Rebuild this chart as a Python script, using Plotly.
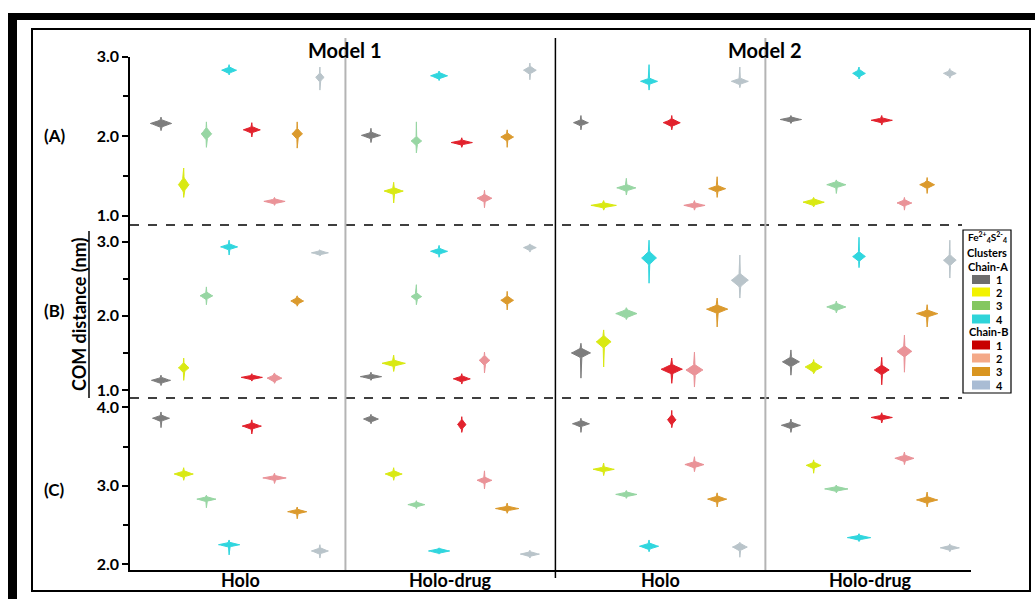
import plotly.graph_objects as go

W, H = 1035, 599

# ---------------- data ----------------
SERIES = ['1', '2', '3', '4', '1', '2', '3', '4']
CHAIN = ['Chain-A'] * 4 + ['Chain-B'] * 4
COLORS = ['#737373', '#d6e800', '#8fd39c', '#1fd3dc',
          '#e0101c', '#e98a90', '#d9921c', '#b4c0c6']
LEGEND_COLORS = ['#6d6d6d', '#f2f200', '#84c760', '#2fd4d9',
                 '#c80000', '#f4a988', '#d99520', '#a9bcd4']
GROUPS = ['Holo', 'Holo-drug', 'Holo', 'Holo-drug']
MODELS = ['Model 1', 'Model 2']
PANELS = ['(A)', '(B)', '(C)']

# medians (nm) per group (Model1 Holo, Model1 Holo-drug, Model2 Holo, Model2 Holo-drug) x cluster
MED_A = [[2.16, 1.39, 2.03, 2.83, 2.08, 1.18, 2.03, 2.74],
         [2.01, 1.31, 1.94, 2.76, 1.92, 1.22, 1.99, 2.83],
         [2.17, 1.13, 1.35, 2.69, 2.17, 1.13, 1.34, 2.69],
         [2.21, 1.17, 1.39, 2.79, 2.20, 1.16, 1.39, 2.79]]
LO_A = [[2.07, 1.23, 1.86, 2.77, 1.99, 1.13, 1.85, 2.58],
        [1.92, 1.16, 1.79, 2.70, 1.86, 1.10, 1.86, 2.71],
        [2.08, 1.07, 1.26, 2.58, 2.08, 1.07, 1.23, 2.61],
        [2.16, 1.11, 1.28, 2.72, 2.14, 1.07, 1.28, 2.73]]
HI_A = [[2.24, 1.60, 2.18, 2.90, 2.17, 1.23, 2.18, 2.87],
        [2.10, 1.42, 2.18, 2.82, 1.98, 1.32, 2.08, 2.92],
        [2.26, 1.19, 1.47, 2.90, 2.26, 1.19, 1.49, 2.87],
        [2.26, 1.23, 1.45, 2.87, 2.26, 1.23, 1.48, 2.85]]
CORE_A = [[0.05, 0.10, 0.08, 0.04, 0.04, 0.03, 0.07, 0.06],
          [0.04, 0.04, 0.06, 0.04, 0.03, 0.05, 0.05, 0.05],
          [0.04, 0.03, 0.04, 0.04, 0.05, 0.03, 0.04, 0.04],
          [0.03, 0.04, 0.04, 0.05, 0.03, 0.04, 0.05, 0.04]]
PEAK_A = [[10, 5, 5, 7, 8, 10, 5, 4],
          [9, 9, 5, 8, 10, 7, 6, 6],
          [7, 12, 9, 8, 8, 10, 8, 8],
          [10, 10, 9, 6, 10, 7, 7, 6]]

MED_B = [[1.13, 1.30, 2.27, 2.93, 1.17, 1.16, 2.20, 2.85],
         [1.18, 1.36, 2.26, 2.87, 1.15, 1.40, 2.21, 2.92],
         [1.50, 1.65, 2.03, 2.78, 1.28, 1.27, 2.09, 2.48],
         [1.38, 1.31, 2.12, 2.80, 1.27, 1.52, 2.03, 2.75]]
LO_B = [[1.06, 1.13, 2.15, 2.82, 1.12, 1.09, 2.13, 2.81],
        [1.13, 1.25, 2.15, 2.79, 1.08, 1.23, 2.08, 2.86],
        [1.16, 1.31, 1.95, 2.44, 1.09, 1.04, 1.85, 2.24],
        [1.20, 1.22, 2.04, 2.65, 1.07, 1.24, 1.85, 2.51]]
HI_B = [[1.20, 1.43, 2.39, 3.02, 1.22, 1.23, 2.27, 2.89],
        [1.24, 1.47, 2.42, 2.95, 1.22, 1.51, 2.33, 2.97],
        [1.63, 1.81, 2.11, 3.02, 1.43, 1.51, 2.24, 2.82],
        [1.54, 1.41, 2.20, 3.06, 1.44, 1.74, 2.15, 3.02]]
CORE_B = [[0.04, 0.07, 0.05, 0.04, 0.03, 0.05, 0.05, 0.03],
          [0.03, 0.04, 0.05, 0.04, 0.04, 0.07, 0.06, 0.04],
          [0.07, 0.09, 0.06, 0.10, 0.07, 0.08, 0.06, 0.10],
          [0.07, 0.07, 0.05, 0.07, 0.07, 0.08, 0.05, 0.08]]
PEAK_B = [[9, 5, 6, 8, 10, 7, 6, 8],
          [10, 11, 5, 8, 8, 5, 6, 6],
          [9, 7, 10, 7, 10, 8, 10, 8],
          [8, 8, 9, 6, 7, 7, 10, 6]]

MED_C = [[3.86, 3.15, 2.83, 2.25, 3.76, 3.10, 2.67, 2.17],
         [3.85, 3.15, 2.76, 2.17, 3.78, 3.07, 2.71, 2.13],
         [3.79, 3.21, 2.89, 2.23, 3.84, 3.27, 2.83, 2.22],
         [3.77, 3.26, 2.96, 2.34, 3.87, 3.35, 2.82, 2.21]]
LO_C = [[3.74, 3.07, 2.72, 2.12, 3.66, 3.03, 2.58, 2.08],
        [3.79, 3.07, 2.71, 2.13, 3.68, 2.96, 2.65, 2.08],
        [3.68, 3.13, 2.84, 2.16, 3.74, 3.18, 2.73, 2.09],
        [3.68, 3.16, 2.91, 2.29, 3.80, 3.27, 2.73, 2.16]]
HI_C = [[3.94, 3.23, 2.88, 2.31, 3.84, 3.16, 2.73, 2.25],
        [3.91, 3.23, 2.81, 2.21, 3.88, 3.19, 2.78, 2.18],
        [3.86, 3.29, 2.94, 2.31, 3.96, 3.37, 2.91, 2.28],
        [3.85, 3.33, 3.01, 2.39, 3.93, 3.43, 2.92, 2.26]]
CORE_C = [[0.04, 0.04, 0.03, 0.03, 0.04, 0.03, 0.03, 0.04],
          [0.04, 0.04, 0.03, 0.03, 0.07, 0.04, 0.03, 0.03],
          [0.04, 0.03, 0.03, 0.04, 0.07, 0.04, 0.04, 0.05],
          [0.04, 0.04, 0.03, 0.03, 0.03, 0.04, 0.04, 0.03]]
PEAK_C = [[8, 9, 9, 10, 9, 11, 9, 8],
          [7, 8, 8, 10, 4, 7, 11, 9],
          [8, 10, 10, 9, 4, 9, 9, 7],
          [9, 7, 11, 11, 10, 9, 10, 9]]

PANEL_DATA = [(MED_A, LO_A, HI_A, CORE_A, PEAK_A),
              (MED_B, LO_B, HI_B, CORE_B, PEAK_B),
              (MED_C, LO_C, HI_C, CORE_C, PEAK_C)]

# ---------------- layout helpers ----------------
GROUP_STEP = 9.25          # x distance between group starts
PX_PER_X = 22.7            # pixels per x unit
WIDTH_SCALE = 1.0 / PX_PER_X


def px(xp):
    return xp / W


def py(yp):
    return 1 - yp / H


def violin_polygon(xc, med, lo, hi, core, peak):
    hw = peak * WIDTH_SCALE
    lo = min(lo, med - core)
    hi = max(hi, med + core)
    ts = [0.0, 0.15, 0.3, 0.45, 0.6, 0.75, 0.9, 1.0]
    prof = [(1 - t) ** 1.4 + 0.06 for t in ts]
    ys = [lo] + [med - core * t for t in reversed(ts[1:])] + [med] + \
         [med + core * t for t in ts[1:]] + [hi]
    ws = [0.0] + list(reversed(prof[1:])) + [prof[0]] + prof[1:] + [0.0]
    xr = [xc + hw * w for w in ws]
    xl = [xc - hw * w for w in reversed(ws)]
    return xr + xl + [xr[0], None], ys + list(reversed(ys)) + [ys[0], None]


fig = go.Figure()

XA = ['x3', 'x2', 'x']
YA = ['y', 'y2', 'y3']
for p, (MED, LO, HI, CORE, PEAK) in enumerate(PANEL_DATA):
    for s in range(8):
        xs, ys = [], []
        for g in range(4):
            xc = g * GROUP_STEP + s
            vx, vy = violin_polygon(xc, MED[g][s], LO[g][s], HI[g][s], CORE[g][s], PEAK[g][s])
            xs += vx
            ys += vy
        fig.add_trace(go.Scatter(
            x=xs, y=ys, mode='lines', fill='toself',
            fillcolor=COLORS[s], line=dict(color=COLORS[s], width=1),
            opacity=0.92, name=f'{CHAIN[s]} {SERIES[s]}', showlegend=False,
            hoverinfo='skip', xaxis=XA[p], yaxis=YA[p]))

x_lo = (130 - 161) / PX_PER_X
x_hi = (970.7 - 161) / PX_PER_X
XDOM = [px(130), px(970.7)]

FONT = 'Lato'
tickfont = dict(family=FONT, size=16, color='black', weight='bold')


def yax(domain, rng, tickvals, anchor):
    return dict(domain=domain, range=rng, anchor=anchor, showline=True, linecolor='black',
                linewidth=1.5, ticks='outside', ticklen=6, tickwidth=1.5, tickcolor='black',
                tickvals=tickvals, ticktext=[f'{v:.1f}' for v in tickvals],
                tickfont=tickfont, showgrid=False, zeroline=False,
                minor=dict(tickvals=[v + 0.5 for v in tickvals[:-1]], ticks='outside',
                           ticklen=5, tickwidth=1.5, tickcolor='black'))


fig.update_layout(
    width=W, height=H, margin=dict(l=0, r=0, t=0, b=0, pad=0, autoexpand=False),
    autosize=False,
    paper_bgcolor='white', plot_bgcolor='rgba(0,0,0,0)',
    showlegend=False,
    xaxis=dict(domain=XDOM, range=[x_lo, x_hi], anchor='y3', showline=True, linecolor='black',
               linewidth=1.5, showticklabels=False, ticks='', showgrid=False, zeroline=False),
    xaxis2=dict(domain=XDOM, range=[x_lo, x_hi], anchor='y2', matches='x', visible=False),
    xaxis3=dict(domain=XDOM, range=[x_lo, x_hi], anchor='y', matches='x', visible=False),
    yaxis=yax([py(225), py(56.7)], [0.883, 3.0], [1.0, 2.0, 3.0], 'x3'),
    yaxis2=yax([py(398), py(225)], [0.892, 3.225], [1.0, 2.0, 3.0], 'x2'),
    yaxis3=yax([py(569.5), py(398)], [1.934, 4.118], [2.0, 3.0, 4.0], 'x'),
)

shapes = []
# outer thick frame (top and left bands) and inner thin frame
shapes.append(dict(type='rect', xref='paper', yref='paper', x0=px(8), x1=px(1035), y0=py(20), y1=py(13),
                   fillcolor='black', line=dict(width=0), layer='above'))
shapes.append(dict(type='rect', xref='paper', yref='paper', x0=px(8), x1=px(17), y0=py(599), y1=py(13),
                   fillcolor='black', line=dict(width=0), layer='above'))
shapes.append(dict(type='rect', xref='paper', yref='paper', x0=px(32), x1=px(1030), y0=py(591), y1=py(29),
                   line=dict(color='black', width=2)))
# dashed separators between panels
for yp in (225, 398):
    shapes.append(dict(type='line', xref='paper', yref='paper', x0=px(130), x1=px(962), y0=py(yp), y1=py(yp),
                       line=dict(color='black', width=1.5, dash='dash')))
# group dividers
for g in range(1, 4):
    xd = g * GROUP_STEP - (GROUP_STEP - 7) / 2
    if g == 2:
        shapes.append(dict(type='line', xref='x', yref='paper', x0=xd, x1=xd, y0=py(578), y1=py(38),
                           line=dict(color='black', width=1.5)))
    else:
        shapes.append(dict(type='line', xref='x', yref='paper', x0=xd, x1=xd, y0=py(570), y1=py(38),
                           line=dict(color='#b4b4b4', width=2)))
# y-title underline
shapes.append(dict(type='line', xref='paper', yref='paper', x0=px(89), x1=px(89), y0=py(398), y1=py(231),
                   line=dict(color='black', width=1.5)))

ann = []
bold = dict(family=FONT, color='black', weight='bold')
for m, name in enumerate(MODELS):
    xm = (2 * m + 1) * GROUP_STEP - (GROUP_STEP - 7) / 2
    ann.append(dict(text=name, x=xm, xref='x', y=py(50), yref='paper', showarrow=False,
                    font=dict(bold, size=20), xanchor='center', yanchor='middle'))
for g, name in enumerate(GROUPS):
    ann.append(dict(text=name, x=g * GROUP_STEP + 3.5, xref='x', y=py(580), yref='paper', showarrow=False,
                    font=dict(bold, size=18), xanchor='center', yanchor='middle'))
for p, (lab, yp) in enumerate(zip(PANELS, (135, 310, 490))):
    ann.append(dict(text=lab, x=px(54), xref='paper', y=py(yp), yref='paper', showarrow=False,
                    font=dict(bold, size=17), xanchor='center', yanchor='middle'))
ann.append(dict(text='COM distance (nm)', x=px(79), xref='paper', y=py(314), yref='paper', showarrow=False,
                textangle=-90, font=dict(bold, size=18), xanchor='center', yanchor='middle'))

# legend box (manual)
shapes.append(dict(type='rect', xref='paper', yref='paper', x0=px(963), x1=px(1011), y0=py(393), y1=py(230),
                   line=dict(color='black', width=1.2), fillcolor='white', layer='above'))
ann.append(dict(text='Fe<sup>2+</sup><sub>4</sub>S<sup>2-</sup><sub>4</sub>', x=px(987), xref='paper', y=py(237),
                yref='paper', showarrow=False, font=dict(bold, size=10), xanchor='center', yanchor='middle'))
ann.append(dict(text='Clusters', x=px(987), xref='paper', y=py(252), yref='paper', showarrow=False,
                font=dict(bold, size=11), xanchor='center', yanchor='middle'))
sw_y = [279.5, 292, 305.5, 319, 345, 358, 371.5, 385]
ann.append(dict(text='Chain-A', x=px(988), xref='paper', y=py(266), yref='paper', showarrow=False,
                font=dict(bold, size=11), xanchor='center', yanchor='middle'))
ann.append(dict(text='Chain-B', x=px(988), xref='paper', y=py(331.5), yref='paper', showarrow=False,
                font=dict(bold, size=11), xanchor='center', yanchor='middle'))
for s in range(8):
    yc = sw_y[s]
    shapes.append(dict(type='rect', xref='paper', yref='paper', x0=px(972), x1=px(990),
                       y0=py(yc + 4.5), y1=py(yc - 4.5), fillcolor=LEGEND_COLORS[s],
                       line=dict(width=0), layer='above'))
    ann.append(dict(text=SERIES[s], x=px(994), xref='paper', y=py(yc), yref='paper', showarrow=False,
                    font=dict(bold, size=11), xanchor='left', yanchor='middle'))

fig.update_layout(shapes=shapes, annotations=ann)
fig.write_html('out.html', config={'displayModeBar': False},
               post_script="document.body.style.margin='0';document.body.style.overflow='hidden';")
